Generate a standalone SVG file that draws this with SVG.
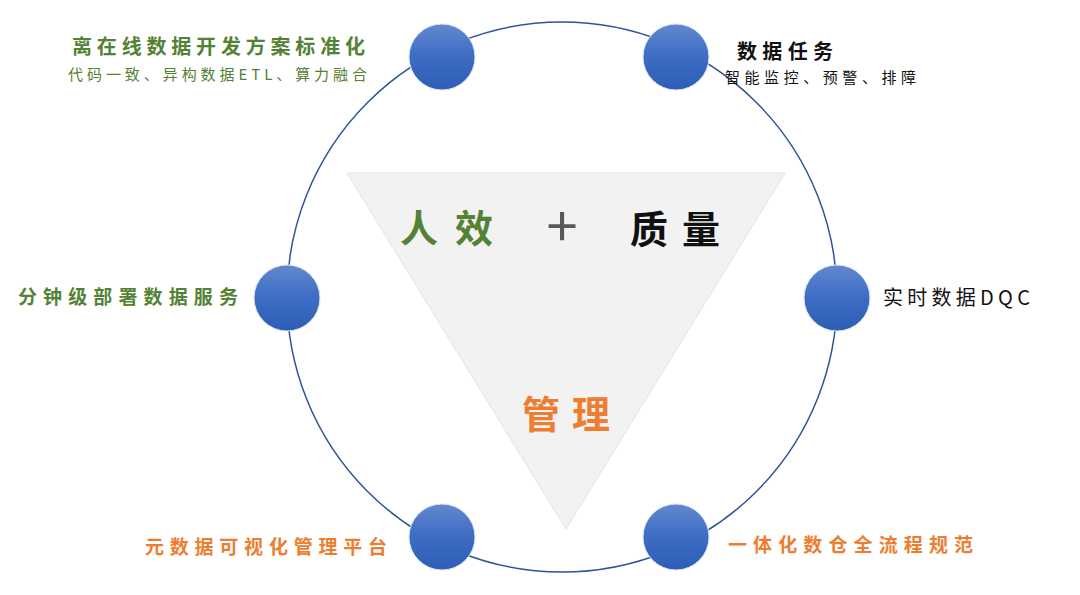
<svg xmlns="http://www.w3.org/2000/svg" width="1080" height="595" viewBox="0 0 1080 595">
<defs>
<linearGradient id="nodeGrad" x1="0" y1="0" x2="0" y2="1">
<stop offset="0" stop-color="#6288cf"/>
<stop offset="0.5" stop-color="#3d6cc4"/>
<stop offset="1" stop-color="#2d5db4"/>
</linearGradient>
<style>
.t{font-family:"Noto Sans CJK SC","Noto Sans",sans-serif;}
.green{fill:#548235;}
.orange{fill:#ed7d31;}
.black{fill:#111111;}
.node{fill:url(#nodeGrad);stroke:#dbe4f4;stroke-width:1;}
</style>
</defs>
<rect width="1080" height="595" fill="#ffffff"/>
<g id="connectors">
<circle cx="562" cy="297" r="275" fill="none" stroke="#2f5597" stroke-width="1.5"/>
</g>
<g id="triangle">
<polygon points="347,173 785,173 566,529" fill="#f2f2f2" stroke="#e2e2e2" stroke-width="1"/>
<text class="t green" x="400" y="242" font-size="38" font-weight="bold" textLength="93" lengthAdjust="spacing">人效</text>
<text class="t" x="562" y="247" font-size="56" fill="#595959" text-anchor="middle">+</text>
<text class="t black" x="630" y="243" font-size="38" font-weight="bold" textLength="90" lengthAdjust="spacing">质量</text>
<text class="t orange" x="522" y="428" font-size="38" font-weight="bold" textLength="88" lengthAdjust="spacing">管理</text>
</g>
<g id="node-tl">
<circle class="node" cx="442" cy="57" r="33"/>
<text class="t green" x="72" y="54" font-size="20" font-weight="bold" textLength="293" lengthAdjust="spacing">离在线数据开发方案标准化</text>
<text class="t green" x="68" y="80" font-size="15" textLength="299" lengthAdjust="spacing">代码一致、异构数据ETL、算力融合</text>
</g>
<g id="node-tr">
<circle class="node" cx="676" cy="57" r="33"/>
<text class="t black" x="737" y="59" font-size="20" font-weight="bold" textLength="96" lengthAdjust="spacing">数据任务</text>
<text class="t black" x="725" y="83" font-size="15" textLength="191" lengthAdjust="spacing">智能监控、预警、排障</text>
</g>
<g id="node-l">
<circle class="node" cx="287" cy="298" r="33"/>
<text class="t green" x="18" y="304" font-size="19" font-weight="bold" textLength="220" lengthAdjust="spacing">分钟级部署数据服务</text>
</g>
<g id="node-r">
<circle class="node" cx="837" cy="298" r="33"/>
<text class="t black" x="883" y="305" font-size="20" textLength="147" lengthAdjust="spacing">实时数据DQC</text>
</g>
<g id="node-bl">
<circle class="node" cx="442" cy="537" r="33"/>
<text class="t orange" x="145" y="554" font-size="19" font-weight="bold" textLength="242" lengthAdjust="spacing">元数据可视化管理平台</text>
</g>
<g id="node-br">
<circle class="node" cx="676" cy="537" r="33"/>
<text class="t orange" x="728" y="552" font-size="19" font-weight="bold" textLength="245" lengthAdjust="spacing">一体化数仓全流程规范</text>
</g>
</svg>
